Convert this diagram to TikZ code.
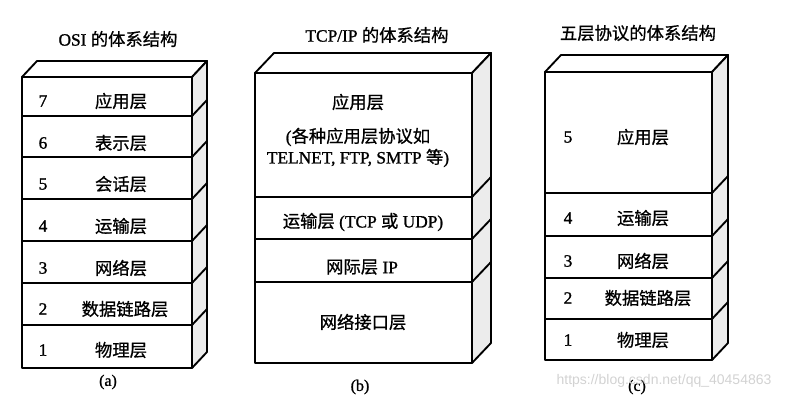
\documentclass[tikz,border=0pt]{standalone}
\usepackage{fontspec}
\setmainfont{Liberation Serif}[FakeBold=1.2]
\newfontfamily\cjk{Noto Sans CJK SC}[FakeBold=0.8]
\newfontfamily\wmfont{Liberation Sans}
\begin{document}
\begin{tikzpicture}[x=0.75pt,y=-0.75pt, line width=1.4pt, line join=round,
  topface/.style={draw=black, fill=white},
  sideface/.style={draw=black, fill=gray!15},
  frontface/.style={draw=black, fill=white},
  lbl/.style={font=\fontsize{13}{15}\selectfont, inner sep=0pt},
  ttl/.style={font=\fontsize{13}{15}\selectfont, inner sep=0pt},
  sublbl/.style={font=\fontsize{12}{14}\selectfont, inner sep=0pt},
  wm/.style={font=\wmfont\fontsize{10.5}{12}\selectfont, text=gray!35, inner sep=0pt}]
\useasboundingbox (0,0) rectangle (789,404);

% ---------- (a) OSI ----------
\draw[topface] (22,77) -- (37,61) -- (207,61) -- (192,77) -- cycle;
\draw[sideface] (192,77) -- (207,61) -- (207,352) -- (192,368) -- cycle;
\draw[frontface] (22,77) rectangle (192,368);
\foreach \y in {116,157,199,241,283,325}{
  \draw (22,\y) -- (192,\y);
  \draw (192,\y) -- (207,\y-16);
}
\node[ttl] (ta) at (118,39) {OSI {\cjk 的体系结构}};
\node[lbl] (a7n) at (43,101) {7};  \node[lbl] (a7) at (121,101) {\cjk 应用层};
\node[lbl] (a6n) at (43,143) {6};  \node[lbl] (a6) at (121,143) {\cjk 表示层};
\node[lbl] (a5n) at (43,184) {5};  \node[lbl] (a5) at (121,184) {\cjk 会话层};
\node[lbl] (a4n) at (43,226) {4};  \node[lbl] (a4) at (121,226) {\cjk 运输层};
\node[lbl] (a3n) at (43,268) {3};  \node[lbl] (a3) at (121,268) {\cjk 网络层};
\node[lbl] (a2n) at (43,309) {2};  \node[lbl] (a2) at (125,309) {\cjk 数据链路层};
\node[lbl] (a1n) at (43,350) {1};  \node[lbl] (a1) at (121,350) {\cjk 物理层};
\node[sublbl] (ca) at (108,382) {(a)};

% ---------- (b) TCP/IP ----------
\draw[topface] (255,73) -- (274,53) -- (491,53) -- (472,73) -- cycle;
\draw[sideface] (472,73) -- (491,53) -- (491,343) -- (472,363) -- cycle;
\draw[frontface] (255,73) rectangle (472,363);
\foreach \y in {197,239,282}{
  \draw (255,\y) -- (472,\y);
  \draw (472,\y) -- (491,\y-20);
}
\node[ttl] (tb) at (377,35) {TCP/IP {\cjk 的体系结构}};
\node[lbl] (b4) at (358,102) {\cjk 应用层};
\node[lbl] (b4a) at (358,137) {({\cjk 各种应用层协议如}};
\node[lbl] (b4b) at (358,158) {TELNET, FTP, SMTP {\cjk 等})};
\node[lbl] (b3) at (363,222) {{\cjk 运输层} (TCP {\cjk 或} UDP)};
\node[lbl] (b2) at (362,267) {{\cjk 网际层} IP};
\node[lbl] (b1) at (363,322) {\cjk 网络接口层};
\node[sublbl] (cb) at (360,387) {(b)};

% ---------- (c) five layers ----------
\draw[topface] (545,72) -- (561,55) -- (728,55) -- (712,72) -- cycle;
\draw[sideface] (712,72) -- (728,55) -- (728,343) -- (712,360) -- cycle;
\draw[frontface] (545,72) rectangle (712,360);
\foreach \y in {193,236,278,319}{
  \draw (545,\y) -- (712,\y);
  \draw (712,\y) -- (728,\y-17);
}
\node[ttl] (tc) at (638,33) {\cjk 五层协议的体系结构};
\node[lbl] (c5n) at (568,137) {5};  \node[lbl] (c5) at (643,137) {\cjk 应用层};
\node[lbl] (c4n) at (568,218) {4};  \node[lbl] (c4) at (643,218) {\cjk 运输层};
\node[lbl] (c3n) at (568,261) {3};  \node[lbl] (c3) at (643,261) {\cjk 网络层};
\node[lbl] (c2n) at (568,298) {2};  \node[lbl] (c2) at (648,298) {\cjk 数据链路层};
\node[lbl] (c1n) at (568,340) {1};  \node[lbl] (c1) at (643,340) {\cjk 物理层};
\node[sublbl] (cc) at (637,387) {(c)};

\node[wm] (wmk) at (664,381) {https://blog.csdn.net/qq\_40454863};
\end{tikzpicture}
\end{document}
